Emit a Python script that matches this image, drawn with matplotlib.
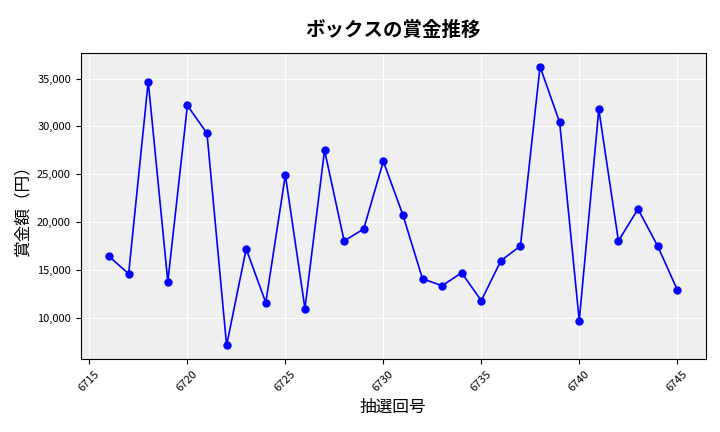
import matplotlib
matplotlib.use("Agg")
import matplotlib.pyplot as plt
from matplotlib.ticker import FuncFormatter

plt.rcParams["font.family"] = "Noto Sans CJK JP"

draws = list(range(6716, 6746))
prizes = [16400, 14580, 34690, 13750, 32190, 29270, 7080, 17190, 11560, 24900,
          10940, 27500, 18020, 19270, 26350, 20730, 14060, 13330, 14690, 11770,
          15940, 17500, 36250, 30420, 9690, 31770, 18020, 21350, 17500, 12920]

fig, ax = plt.subplots(figsize=(7.2, 4.32), dpi=100)
ax.set_facecolor("#efefef")
ax.grid(True, color="white", linewidth=0.8)
ax.set_axisbelow(True)
ax.plot(draws, prizes, color="blue", marker="o", markersize=5, linewidth=1.2)
ax.set_title("ボックスの賞金推移", fontsize=14, fontweight="bold", pad=12)
ax.set_xlabel("抽選回号", fontsize=12)
ax.set_ylabel("賞金額（円）", fontsize=12)
ax.yaxis.set_major_formatter(FuncFormatter(lambda v, p: f"{int(v):,}"))
ax.set_xticks(range(6715, 6746, 5))
ax.tick_params(axis="x", labelrotation=45, labelsize=8)
ax.tick_params(axis="y", labelsize=8)
fig.subplots_adjust(left=0.112, right=0.98, top=0.878, bottom=0.168)
fig.savefig("out.png")
